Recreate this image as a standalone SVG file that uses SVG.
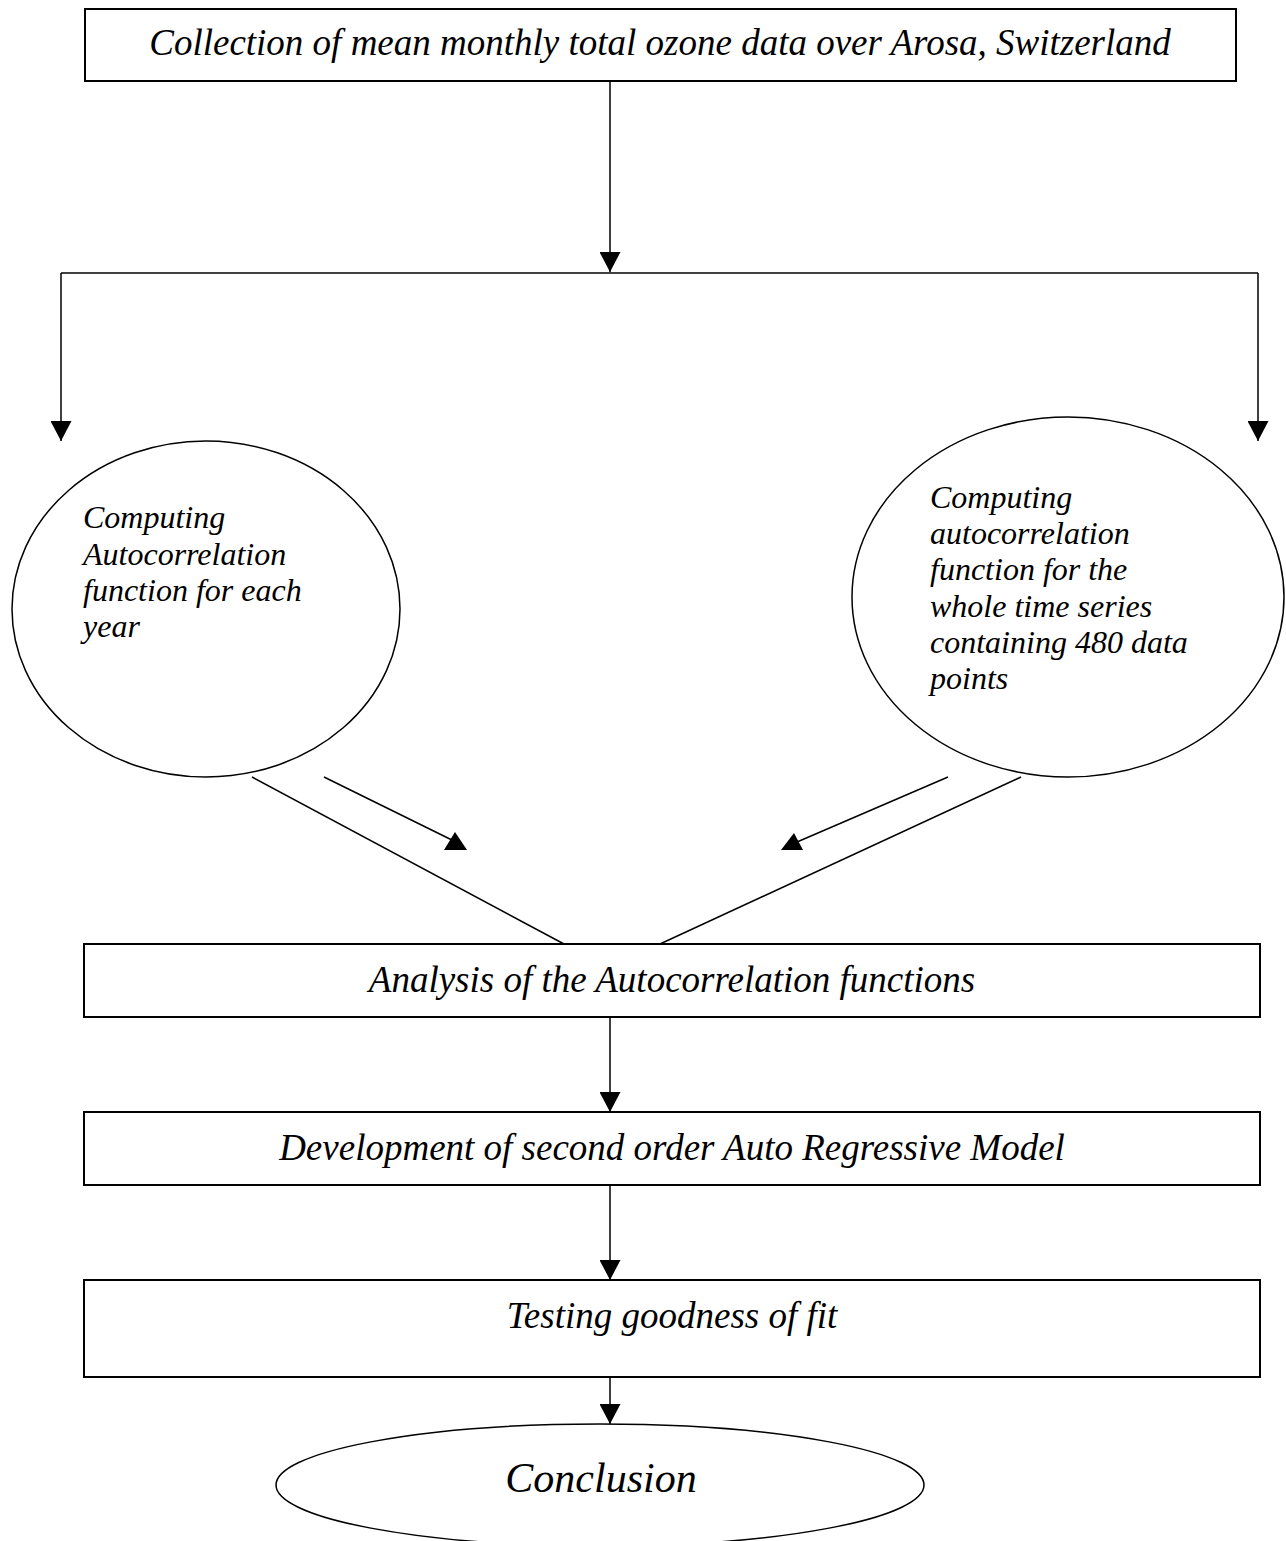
<svg xmlns="http://www.w3.org/2000/svg" width="1286" height="1541" viewBox="0 0 1286 1541">
  <style>
    .box { fill: #ffffff; stroke: #000000; stroke-width: 2; }
    .shape { fill: #ffffff; stroke: #000000; stroke-width: 1.5; }
    .line { fill: none; stroke: #000000; stroke-width: 1.5; }
    .head { fill: #000000; stroke: none; }
    .t { font-family: "Liberation Serif", "Times New Roman", serif; font-style: italic; fill: #000000; }
    .big { font-size: 37px; }
    .mid { font-size: 32px; }
    .con { font-size: 42px; }
  </style>
  <defs>
    <marker id="arr" viewBox="0 0 20 21" refX="20" refY="10.5" markerWidth="20" markerHeight="21" markerUnits="userSpaceOnUse" orient="auto">
      <path d="M0,0 L20,10.5 L0,21 Z" fill="#000000"/>
    </marker>
  </defs>
  <rect width="1286" height="1541" fill="#ffffff"/>

  <g id="connectors">
    <line class="line" x1="610" y1="81" x2="610" y2="272" marker-end="url(#arr)"/>
    <line class="line" x1="61" y1="273" x2="1258" y2="273" stroke-width="2.5"/>
    <line class="line" x1="61" y1="273" x2="61" y2="441" marker-end="url(#arr)"/>
    <line class="line" x1="1258" y1="273" x2="1258" y2="441" marker-end="url(#arr)"/>
    <line class="line" x1="252" y1="777" x2="564" y2="944"/>
    <line class="line" x1="324" y1="777" x2="458" y2="843"/>
    <polygon class="head" points="455,832 444,850 467,850"/>
    <line class="line" x1="1021" y1="777" x2="660" y2="944"/>
    <line class="line" x1="948" y1="777" x2="797" y2="842"/>
    <polygon class="head" points="794,833 781,850 803,850"/>
    <line class="line" x1="610" y1="1017" x2="610" y2="1112" marker-end="url(#arr)"/>
    <line class="line" x1="610" y1="1185" x2="610" y2="1280" marker-end="url(#arr)"/>
    <line class="line" x1="610" y1="1377" x2="610" y2="1424" marker-end="url(#arr)"/>
  </g>

  <g id="node-collection">
    <rect class="box" x="85" y="9" width="1151" height="72"/>
    <text class="t big" x="660" y="55" text-anchor="middle">Collection of mean monthly total ozone data over Arosa, Switzerland</text>
  </g>

  <g id="node-acf-year">
    <ellipse class="shape" cx="206" cy="609" rx="194" ry="168"/>
    <text class="t mid" x="83" y="528">Computing</text>
    <text class="t mid" x="83" y="565">Autocorrelation</text>
    <text class="t mid" x="83" y="601">function for each</text>
    <text class="t mid" x="83" y="637">year</text>
  </g>

  <g id="node-acf-whole">
    <ellipse class="shape" cx="1068" cy="597" rx="216" ry="180"/>
    <text class="t mid" x="930" y="508">Computing</text>
    <text class="t mid" x="930" y="544">autocorrelation</text>
    <text class="t mid" x="930" y="580">function for the</text>
    <text class="t mid" x="930" y="617">whole time series</text>
    <text class="t mid" x="930" y="653">containing 480 data</text>
    <text class="t mid" x="930" y="689">points</text>
  </g>

  <g id="node-analysis">
    <rect class="box" x="84" y="944" width="1176" height="73"/>
    <text class="t big" x="672" y="992" text-anchor="middle">Analysis of the Autocorrelation functions</text>
  </g>

  <g id="node-development">
    <rect class="box" x="84" y="1112" width="1176" height="73"/>
    <text class="t big" x="672" y="1160" text-anchor="middle">Development of second order Auto Regressive Model</text>
  </g>

  <g id="node-testing">
    <rect class="box" x="84" y="1280" width="1176" height="97"/>
    <text class="t big" x="672" y="1328" text-anchor="middle">Testing goodness of fit</text>
  </g>

  <g id="node-conclusion">
    <ellipse class="shape" cx="600" cy="1485" rx="324" ry="61"/>
    <text class="t con" x="601" y="1492" text-anchor="middle">Conclusion</text>
  </g>
</svg>
